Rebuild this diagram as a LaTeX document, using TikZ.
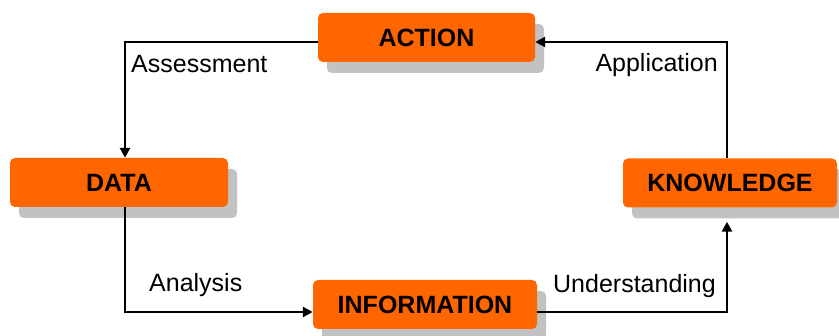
\documentclass[tikz,border=0pt]{standalone}
\usepackage{fontspec}
\setmainfont{Liberation Sans}
\usetikzlibrary{shadows,calc,arrows.meta}

\definecolor{boxorange}{HTML}{FF6600}
\definecolor{boxshadow}{HTML}{C2C2C2}

\tikzset{
  stagebox/.style={
    draw=none, fill=boxorange, rounded corners=5pt,
    minimum height=49pt, inner sep=0pt,
    font=\fontsize{25}{30}\selectfont\bfseries, text=black,
    drop shadow={shadow xshift=9pt, shadow yshift=-11pt,
                 fill=boxshadow, opacity=1}
  },
  link/.style={line width=2.5pt, -{Triangle[length=10pt,width=10pt]}},
  steplabel/.style={inner sep=0pt, font=\fontsize{25}{30}\selectfont, text=black}
}

\begin{document}
\begin{tikzpicture}[x=1pt, y=-1pt]
  \useasboundingbox (0,0) rectangle (839,336);

  % the four stages of the cycle
  \node[stagebox, minimum width=217pt] (action)      at (426.5,37.5) {ACTION};
  \node[stagebox, minimum width=218pt] (data)        at (119,182.5)  {DATA};
  \node[stagebox, minimum width=224pt] (information) at (425,304.5)  {INFORMATION};
  \node[stagebox, minimum width=214pt] (knowledge)   at (730,183)    {KNOWLEDGE};

  % corners of the loop
  \coordinate (tl) at (125,42);
  \coordinate (tr) at (727,42);
  \coordinate (bl) at (125,312);
  \coordinate (br) at (727,312);
  \coordinate (kin) at ($(br |- knowledge.south)+(0,14)$);

  % connectors
  \draw[link] (action.west |- tl) -- (tl) -- (tl |- data.north);
  \draw[link] (tl |- data.south) -- (bl) -- (bl -| information.west);
  \draw[link] (br -| information.east) -- (br) -- (kin);
  \draw[link] (tr |- knowledge.north) -- (tr) -- (tr -| action.east);

  % transition labels
  \node[steplabel, anchor=base west] (assess) at (131,73)  {Assessment};
  \node[steplabel, anchor=base east] (apply)  at (718,72)  {Application};
  \node[steplabel, anchor=base west] (analyse) at (149,292) {Analysis};
  \node[steplabel, anchor=base east] (underst) at (716,293) {Understanding};
\end{tikzpicture}
\end{document}
